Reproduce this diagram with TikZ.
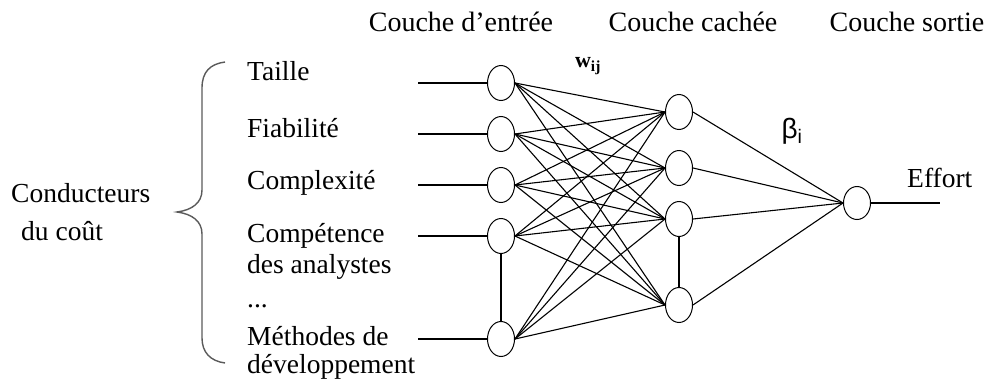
\documentclass[tikz,border=0pt]{standalone}
\usepackage{fontspec}
\setmainfont{Liberation Serif}
\newfontfamily\sansgr{Liberation Sans}
\usetikzlibrary{shapes.geometric}
\definecolor{bracegray}{RGB}{90,90,90}
\begin{document}
\begin{tikzpicture}[x=1pt,y=-1pt,
  neuron/.style={draw, ellipse, minimum width=27pt, minimum height=35pt, inner sep=0pt, line width=1pt},
  conn/.style={line width=1.1pt},
  txt/.style={font=\fontsize{27.5}{32}\selectfont, inner sep=0pt, anchor=base west},
  head/.style={font=\fontsize{28}{32}\selectfont, inner sep=0pt, anchor=base}]
\useasboundingbox (0,0) rectangle (990,383);
% headers
\node[head] (hin) at (461,31) {Couche d’entrée};
\node[head] (hhid) at (693,31) {Couche cachée};
\node[head] (hout) at (907,31) {Couche sortie};
% left labels
\node[txt] (cond) at (11,202) {Conducteurs};
\node[txt] (cout) at (21,240) {du coût};
\node[txt] (taille) at (247,80) {Taille};
\node[txt] (fiab) at (247,137) {Fiabilité};
\node[txt] (compl) at (247,189) {Complexité};
\node[txt] (comp) at (247,242) {Compétence};
\node[txt] (anal) at (247,273) {des analystes};
\node[txt] (dots) at (247,307) {...};
\node[txt] (meth) at (247,345) {Méthodes de};
\node[txt] (dev) at (247,373) {développement};
% brace
\draw[bracegray, line width=1.4pt] (225,62) .. controls (210,64) and (202,72) .. (202,88) -- (202,190)
  .. controls (202,203) and (192,210) .. (177,212)
  .. controls (192,214) and (202,221) .. (202,234) -- (202,338)
  .. controls (202,352) and (210,361) .. (225,363);
% neurons
\node[neuron] (i1) at (501,83) {};
\node[neuron] (i2) at (501,134) {};
\node[neuron] (i3) at (501,185) {};
\node[neuron] (i4) at (501,236) {};
\node[neuron] (i5) at (501,339) {};
\node[neuron] (h1) at (679,112) {};
\node[neuron] (h2) at (679,168) {};
\node[neuron] (h3) at (679,219) {};
\node[neuron] (h4) at (679,305) {};
\node[neuron, minimum height=33pt] (o) at (857,203) {};
% input lines
\coordinate (s1) at (418,83);
\coordinate (s2) at (418,134);
\coordinate (s3) at (418,185);
\coordinate (s4) at (418,236);
\coordinate (s5) at (418,339);
\foreach \k in {1,...,5} \draw[conn] (s\k) -- (i\k.west);
\foreach \k in {1,...,5} \foreach \h in {1,...,4} \draw[conn] (i\k.east) -- (h\h.west);
\foreach \h in {1,...,4} \draw[conn] (h\h.east) -- (o.west);
\draw[conn] (i4.south) -- (i5.north);
\draw[conn] (h3.south) -- (h4.north);
\coordinate (oe) at (940,203);
\draw[conn] (o.east) -- (oe);
% weights
\node[font=\fontsize{22}{26}\selectfont\bfseries, inner sep=0pt] (w) at (588,66) {w\textsubscript{ij}};
\node[font=\fontsize{28}{32}\selectfont\sansgr, inner sep=0pt] (beta) at (792,131) {β\textsubscript{i}};
\node[txt] (eff) at (907,187) {Effort};
\end{tikzpicture}
\end{document}
